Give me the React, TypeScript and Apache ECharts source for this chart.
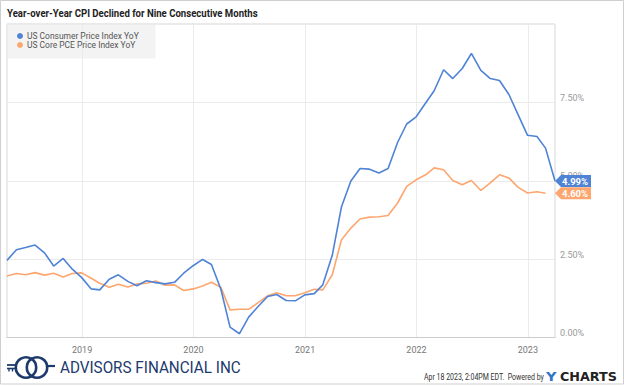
import React, { useEffect, useRef } from "react";
import * as echarts from "echarts";

const W = 624;
const H = 386;

const titleText = "Year-over-Year CPI Declined for Nine Consecutive Months";
const seriesNames = ["US Consumer Price Index YoY", "US Core PCE Price Index YoY"];
const firstMonth = [2018, 4];
const axisStart = "2018-04-30";
const axisEnd = "2023-03-31";

// CPI YoY, Apr 2018 – Mar 2023
const cpi = [
  2.46, 2.8, 2.87, 2.95, 2.7, 2.28, 2.52, 2.18, 1.91,
  1.55, 1.52, 1.86, 2.0, 1.79, 1.65, 1.81, 1.75, 1.71, 1.76, 2.05, 2.29,
  2.49, 2.33, 1.54, 0.33, 0.12, 0.65, 0.99, 1.31, 1.37, 1.18, 1.17, 1.36,
  1.4, 1.68, 2.62, 4.16, 4.99, 5.39, 5.37, 5.25, 5.39, 6.22, 6.81, 7.04,
  7.48, 7.87, 8.54, 8.26, 8.58, 9.06, 8.52, 8.26, 8.2, 7.75, 7.11, 6.45,
  6.41, 6.04, 4.99,
];

// Core PCE YoY, Apr 2018 – Feb 2023
const pce = [
  1.96, 2.04, 2.0, 2.07, 1.99, 2.05, 1.93, 2.04, 2.06,
  1.89, 1.73, 1.6, 1.7, 1.61, 1.71, 1.73, 1.8, 1.67, 1.68, 1.5, 1.55,
  1.64, 1.76, 1.6, 0.88, 0.9, 0.9, 1.11, 1.33, 1.43, 1.33, 1.33, 1.43,
  1.54, 1.52, 2.0, 3.11, 3.49, 3.78, 3.84, 3.85, 3.89, 4.29, 4.82, 5.03,
  5.19, 5.41, 5.35, 5.01, 4.87, 5.01, 4.69, 4.93, 5.19, 5.09, 4.79, 4.61,
  4.65, 4.6,
];

const footerStamp = "Apr 18 2023, 2:04PM EDT.  Powered by";
const brandName = "ADVISORS FINANCIAL INC";

const BLUE = "#4f83d6";
const ORANGE = "#fda66f";
const NAVY = "#1d3a6c";

function monthEnd(i: number): string {
  const d = new Date(Date.UTC(firstMonth[0], firstMonth[1] - 1 + i + 1, 0));
  return d.toISOString().slice(0, 10);
}

function measure(text: string, weight: string, size: number, family: string): number {
  const c = document.createElement("canvas").getContext("2d");
  if (!c) return text.length * size * 0.5;
  c.font = `${weight} ${size}px ${family}`;
  return c.measureText(text).width || text.length * size * 0.5;
}

function fitText(
  text: string,
  x: number,
  y: number,
  targetW: number,
  size: number,
  weight: string,
  family: string,
  fill: string
) {
  const w = measure(text, weight, size, family);
  return {
    type: "text",
    x,
    y,
    scaleX: targetW / w,
    silent: true,
    style: {
      text,
      x: 0,
      y: 0,
      align: "left",
      verticalAlign: "middle",
      fontSize: size,
      fontWeight: weight,
      fontFamily: family,
      fill,
    },
  };
}

export default function App() {
  const ref = useRef<HTMLDivElement>(null);

  useEffect(() => {
    if (!ref.current) return;
    const chart = echarts.init(ref.current, null, { renderer: "svg" });

    const cpiData = cpi.map((v, i) => [monthEnd(i), v]);
    const pceData = pce.map((v, i) => [monthEnd(i), v]);
    const lastCpi = cpi[cpi.length - 1];
    const lastPce = pce[pce.length - 1];

    const legendSize = 9 * (112 / measure(seriesNames[0], "normal", 9, "Roboto"));

    const tag = (color: string, value: number) => ({
      silent: true,
      symbol: "path://M0,6L6,0L36,0L36,12L6,12Z",
      symbolSize: [36, 12],
      symbolOffset: [18, 0],
      symbolKeepAspect: false,
      itemStyle: { color },
      label: {
        show: true,
        position: "inside",
        color: "#fff",
        fontWeight: "bold",
        fontSize: 9.5,
        fontFamily: "Roboto",
        offset: [2, 0],
        formatter: value.toFixed(2) + "%",
      },
      data: [{ coord: [axisEnd, value], value }],
    });

    const DAY = 86400000;

    const option = {
      animation: false,
      backgroundColor: "#ffffff",
      textStyle: { fontFamily: "Roboto" },
      grid: {
        left: 7,
        right: 69,
        top: 24,
        bottom: 48.5,
        show: true,
        borderColor: "#d4d4d4",
        borderWidth: 1,
        backgroundColor: "transparent",
      },
      legend: {
        orient: "vertical",
        left: 12,
        top: 27,
        itemGap: 1,
        icon: "circle",
        itemWidth: 6,
        itemHeight: 6,
        selectedMode: false,
        textStyle: { fontSize: legendSize, color: "#555", fontFamily: "Roboto", padding: [0, 0, 0, -1] },
        data: seriesNames,
      },
      xAxis: {
        type: "time",
        min: axisStart,
        max: axisEnd,
        minInterval: 365 * DAY,
        maxInterval: 366 * DAY,
        axisTick: { show: false },
        axisLine: { show: true, lineStyle: { color: "#cccccc" } },
        axisLabel: { formatter: "{yyyy}", color: "#777", fontSize: 9, margin: 8 },
        splitLine: { show: true, lineStyle: { color: "#ebebeb", width: 1 } },
      },
      yAxis: {
        type: "value",
        position: "right",
        min: 0,
        max: 10,
        interval: 2.5,
        axisLine: { show: false },
        axisTick: { show: false },
        axisLabel: {
          formatter: (v: number) => v.toFixed(2) + "%",
          color: "#9a9a9a",
          fontSize: 9,
          margin: 5,
          verticalAlign: "bottom",
          showMaxLabel: false,
        },
        splitLine: { show: true, lineStyle: { color: "#ebebeb", width: 1 } },
      },
      series: [
        {
          name: seriesNames[0],
          type: "line",
          data: cpiData,
          showSymbol: false,
          symbol: "circle",
          color: BLUE,
          lineStyle: { color: BLUE, width: 1.6 },
          clip: false,
          z: 3,
          markPoint: tag(BLUE, lastCpi),
        },
        {
          name: seriesNames[1],
          type: "line",
          data: pceData,
          showSymbol: false,
          symbol: "circle",
          color: ORANGE,
          lineStyle: { color: ORANGE, width: 1.6 },
          clip: false,
          z: 2,
          markPoint: tag(ORANGE, lastPce),
        },
      ],
      graphic: [
        {
          type: "rect",
          z: -1,
          silent: true,
          shape: { x: 0.5, y: 0.5, width: W - 1, height: H - 2.5 },
          style: { fill: "none", stroke: "#cfcfcf", lineWidth: 1 },
        },
        {
          type: "rect",
          z: -1,
          silent: true,
          shape: { x: 7.5, y: 24.5, width: 148, height: 34 },
          style: { fill: "#f3f3f3" },
        },
        fitText(titleText, 7, 13.5, 251, 11, "bold", "Roboto", "#222"),
        // logo icon
        {
          type: "group",
          silent: true,
          children: [
            { type: "circle", shape: { cx: 26, cy: 367.5, r: 10.2 }, style: { fill: "none", stroke: NAVY, lineWidth: 2.6 } },
            { type: "circle", shape: { cx: 37, cy: 367.5, r: 10.2 }, style: { fill: "none", stroke: NAVY, lineWidth: 2.6 } },
            { type: "line", shape: { x1: 7, y1: 365, x2: 17, y2: 365 }, style: { stroke: NAVY, lineWidth: 1.8 } },
            { type: "line", shape: { x1: 7, y1: 368.5, x2: 17, y2: 368.5 }, style: { stroke: NAVY, lineWidth: 1.6 } },
            { type: "line", shape: { x1: 9, y1: 368.5, x2: 9, y2: 371.5 }, style: { stroke: NAVY, lineWidth: 1.4 } },
            { type: "line", shape: { x1: 12.5, y1: 368.5, x2: 12.5, y2: 371.5 }, style: { stroke: NAVY, lineWidth: 1.4 } },
            { type: "line", shape: { x1: 46, y1: 366, x2: 55, y2: 366 }, style: { stroke: NAVY, lineWidth: 2.2 } },
          ],
        },
        fitText(brandName, 60, 368, 181, 16, "normal", "Roboto", NAVY),
        fitText(footerStamp, 424, 377, 120, 8.5, "normal", "Roboto", "#333"),
        fitText("Y", 546, 376.5, 10.5, 13, "bold", "DejaVu Sans", "#2f74c9"),
        fitText("CHARTS", 560, 376.5, 57, 13, "bold", "DejaVu Sans", "#222"),
      ],
    };

    chart.setOption(option as any);
    return () => chart.dispose();
  }, []);

  return (
    <div
      ref={ref}
      style={{ position: "absolute", left: 0, top: 0, width: W, height: H, background: "#fff" }}
    />
  );
}
